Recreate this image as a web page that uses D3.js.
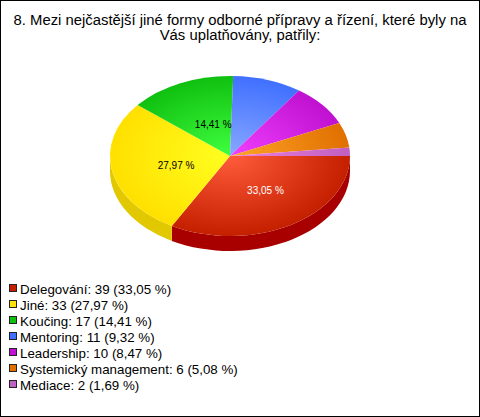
<!DOCTYPE html>
<html>
<head>
<meta charset="utf-8">
<script src="https://cdn.jsdelivr.net/npm/d3@7"></script>
<style>
  html, body { margin: 0; padding: 0; background: #fff; }
  svg { display: block; }
  text { font-family: "Liberation Sans", Arial, sans-serif; }
</style>
</head>
<body>
<div class="vis"></div>
<script>
var titleLines = ['8. Mezi nejčastější jiné formy odborné přípravy a řízení, které byly na', 'Vás uplatňovány, patřily:'];
var categories = ['Delegování', 'Jiné', 'Koučing', 'Mentoring', 'Leadership', 'Systemický management', 'Mediace'];
var values = [39, 33, 17, 11, 10, 6, 2];
var baseColors = ['#c42000', '#ffe000', '#10c010', '#4070ff', '#c010d0', '#e07000', '#c060c0'];
var lightColors = ['#ff5c3c', '#ffff20', '#40ff40', '#88a8ff', '#f040ff', '#ffa428', '#f080e0'];
var sideColors = ['#a80000', '#e2c800', '#0a9a0a', '#3058cc', '#9a0ca8', '#b45a00', '#9a4c9a'];
var whiteLabels = ['Delegování'];

(function() {
  'use strict';

  var width = 480,
    height = 417,
    cx = 230,
    cy = 156,
    rx = 120,
    ry = 80,
    depth = 15,
    minLabelShare = 0.1;

  var total = d3.sum(values);

  function pct(v) {
    return (v / total * 100).toFixed(2).replace('.', ',') + ' %';
  }

  var svg = d3.select('.vis').append('svg')
    .attr('width', width)
    .attr('height', height);

  svg.append('rect')
    .attr('x', 0.5)
    .attr('y', 0.5)
    .attr('width', width - 1)
    .attr('height', height - 1)
    .attr('fill', '#fff')
    .attr('stroke', '#000');

  svg.selectAll('.title')
    .data(titleLines)
    .enter()
    .append('text')
      .attr('class', 'title')
      .attr('x', width / 2)
      .attr('y', function(d, i) { return 25 + i * 15; })
      .attr('text-anchor', 'middle')
      .attr('font-size', 14.85)
      .attr('fill', '#000')
      .text(function(d) { return d; });

  // pie starts at 3 o'clock and runs clockwise
  var pie = d3.pie()
    .sort(null)
    .startAngle(Math.PI / 2)
    .endAngle(Math.PI * 2.5);

  var slices = pie(values);
  var arc = d3.arc().innerRadius(0).outerRadius(rx);

  var defs = svg.append('defs');
  var grads = defs.selectAll('radialGradient')
    .data(categories)
    .enter()
    .append('radialGradient')
      .attr('id', function(d, i) { return 'g' + i; })
      .attr('gradientUnits', 'userSpaceOnUse')
      .attr('cx', 0)
      .attr('cy', 0)
      .attr('r', rx);
  grads.append('stop').attr('offset', '0%').attr('stop-color', function(d, i) { return lightColors[i]; });
  grads.append('stop').attr('offset', '100%').attr('stop-color', function(d, i) { return baseColors[i]; });

  // screen angle, clockwise from east
  function screenAngle(a) {
    return a - Math.PI / 2;
  }

  function sidePath(d) {
    var a0 = Math.max(screenAngle(d.startAngle), 0),
      a1 = Math.min(screenAngle(d.endAngle), Math.PI);
    if (a1 <= a0) { return null; }
    var x0 = cx + rx * Math.cos(a0), y0 = cy + ry * Math.sin(a0),
      x1 = cx + rx * Math.cos(a1), y1 = cy + ry * Math.sin(a1);
    return 'M' + x0 + ',' + y0 +
      'A' + rx + ',' + ry + ' 0 0 1 ' + x1 + ',' + y1 +
      'L' + x1 + ',' + (y1 + depth) +
      'A' + rx + ',' + ry + ' 0 0 0 ' + x0 + ',' + (y0 + depth) + 'Z';
  }

  svg.selectAll('.side')
    .data(slices)
    .enter()
    .append('path')
      .attr('class', 'side')
      .attr('d', sidePath)
      .attr('fill', function(d, i) { return sideColors[i]; });

  svg.append('g')
      .attr('transform', 'translate(' + cx + ',' + cy + ') scale(1,' + (ry / rx) + ')')
    .selectAll('.slice')
    .data(slices)
    .enter()
    .append('path')
      .attr('class', 'slice')
      .attr('d', arc)
      .attr('fill', function(d, i) { return 'url(#g' + i + ')'; });

  // the green label sits a little right of the others' pattern
  var labelNudge = {'Koučing': 3};

  svg.selectAll('.pct')
    .data(slices.filter(function(d) { return d.value / total > minLabelShare; }))
    .enter()
    .append('text')
      .attr('class', 'pct')
      .attr('x', function(d) {
        var nudge = labelNudge[categories[d.index]] || 0;
        return cx + 5 + nudge + rx * 0.5 * Math.cos(screenAngle((d.startAngle + d.endAngle) / 2));
      })
      .attr('y', function(d) {
        return cy + 6 + ry * 0.47 * Math.sin(screenAngle((d.startAngle + d.endAngle) / 2));
      })
      .attr('text-anchor', 'middle')
      .attr('font-size', 10)
      .attr('fill', function(d) {
        return whiteLabels.indexOf(categories[d.index]) >= 0 ? '#fff' : '#000';
      })
      .text(function(d) { return pct(d.value); });

  var legendY = d3.scalePoint()
    .domain(categories)
    .range([289, 385]);

  var legend = svg.selectAll('.legend')
    .data(categories)
    .enter()
    .append('g')
      .attr('class', 'legend')
      .attr('transform', function(d) { return 'translate(0,' + legendY(d) + ')'; });

  legend.append('rect')
    .attr('x', 9.5)
    .attr('y', -4.5)
    .attr('width', 7)
    .attr('height', 7)
    .attr('fill', function(d, i) { return baseColors[i]; })
    .attr('stroke', '#222');

  legend.append('text')
    .attr('x', 20)
    .attr('y', 5)
    .attr('font-size', 13.33)
    .attr('fill', '#000')
    .text(function(d, i) { return d + ': ' + values[i] + ' (' + pct(values[i]) + ')'; });
}());
</script>
</body>
</html>
